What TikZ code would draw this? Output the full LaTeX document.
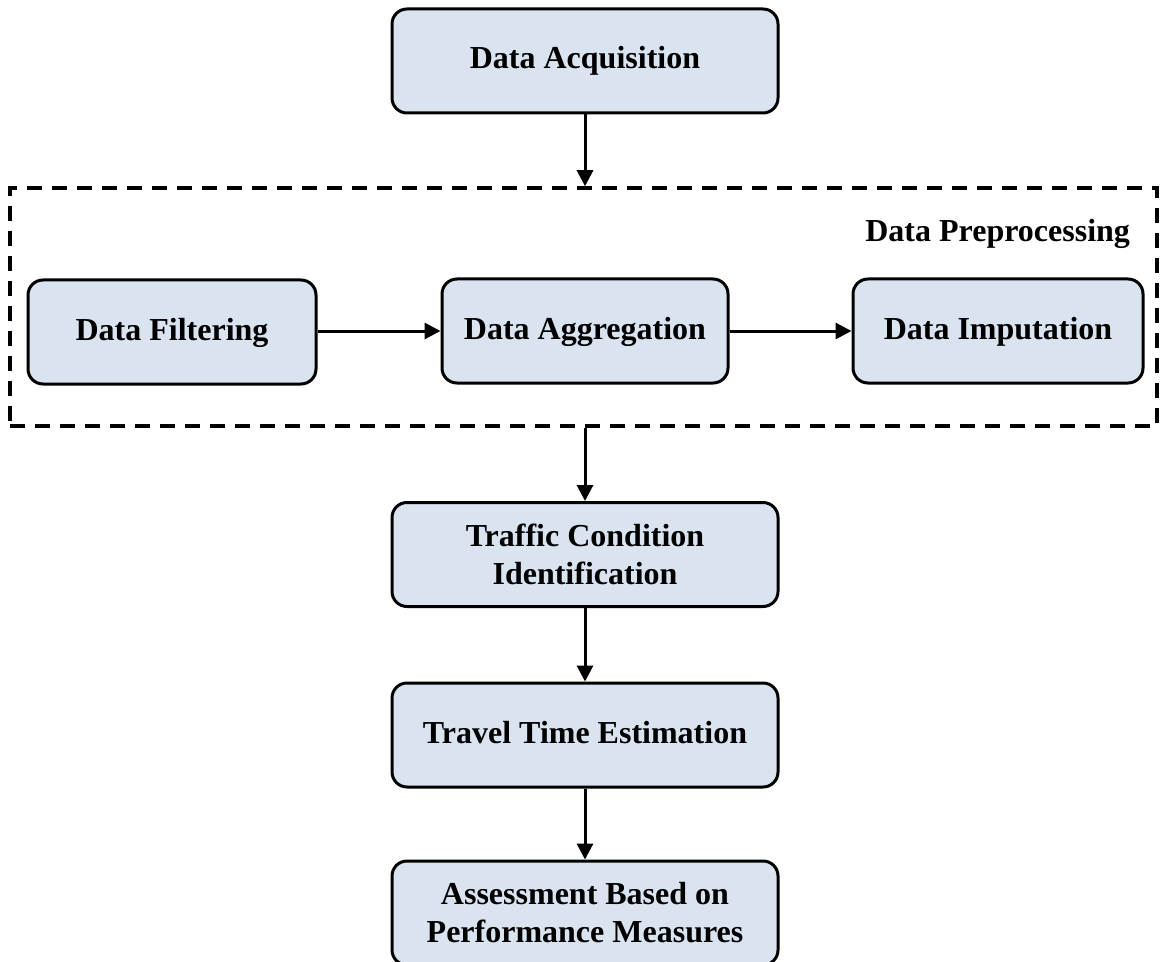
\documentclass[tikz,border=0pt]{standalone}
\usepackage{fontspec}
\setmainfont{Liberation Serif}
\usetikzlibrary{arrows.meta}
\definecolor{boxfill}{RGB}{218,227,240}
\begin{document}
\begin{tikzpicture}[x=0.5pt,y=-0.5pt,
  stepbox/.style={draw=black, line width=1.5pt, fill=boxfill, rounded corners=7.5pt,
    align=center, inner sep=0pt, font=\fontsize{16}{19}\selectfont\bfseries,
    minimum height=52pt},
  oneline/.style={text height=11pt, text depth=3pt},
  conn/.style={line width=1.5pt, -{Triangle[length=8pt,width=8pt]}},
  groupbox/.style={draw=black, line width=1.75pt, dash pattern=on 7.5pt off 5pt, inner sep=0pt}]
\clip (0,0) rectangle (1160,962);
\node[stepbox, oneline, minimum width=193pt] (acq) at (585,61) {Data Acquisition};
\node[groupbox, minimum width=573.5pt, minimum height=119pt] (pre) at (583.5,307) {};
\node[anchor=east, font=\fontsize{16}{19}\selectfont\bfseries] (prelabel) at (1137,234) {Data Preprocessing};
\node[stepbox, oneline, minimum width=144pt] (filt) at (172,332) {Data Filtering};
\node[stepbox, oneline, minimum width=143pt] (agg) at (585,331) {Data Aggregation};
\node[stepbox, oneline, minimum width=145pt] (imp) at (998,331) {Data Imputation};
\node[stepbox, minimum width=193pt] (traf) at (585,554.5) {Traffic Condition\\Identification};
\node[stepbox, oneline, minimum width=193pt] (trav) at (585,735) {Travel Time Estimation};
\node[stepbox, minimum width=193pt] (ass) at (585,913) {Assessment Based on\\Performance Measures};
\draw[conn] (acq.south) -- (acq.south |- pre.north);
\draw[conn] (filt.east |- agg.west) -- (agg.west);
\draw[conn] (agg.east) -- (imp.west);
\draw[conn] (traf.north |- pre.south) -- (traf.north);
\draw[conn] (traf.south) -- (trav.north);
\draw[conn] (trav.south) -- (ass.north);
\end{tikzpicture}
\end{document}
